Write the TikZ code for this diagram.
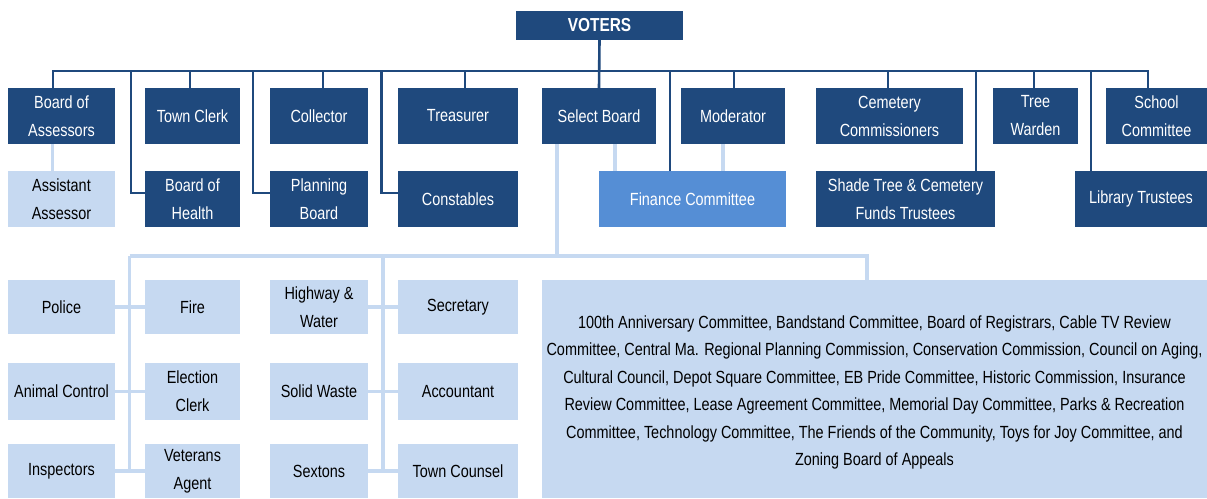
\documentclass[tikz,border=0pt]{standalone}
\usepackage{fontspec}
\newfontfamily\orgfont[FakeStretch=0.82]{Liberation Sans}
\definecolor{navy}{RGB}{31,73,125}
\definecolor{pale}{RGB}{198,217,241}
\definecolor{midblue}{RGB}{85,142,213}
\begin{document}
\begin{tikzpicture}[x=1pt,y=-1pt,
  box/.style={inner sep=0pt,outer sep=0pt,align=center,
    font=\orgfont\fontsize{17.6}{28}\selectfont},
  dk/.style={box,fill=navy,text=white},
  lt/.style={box,fill=pale,text=black},
  md/.style={box,fill=midblue,text=white},
  top/.style={minimum height=56pt},
  dline/.style={draw=navy,line width=2.6pt},
  lline/.style={draw=pale,line width=3.4pt}]
\useasboundingbox[fill=white] (0,0) rectangle (1207,498);

% head
\node[dk,minimum width=167pt,minimum height=29pt,font=\orgfont\bfseries\fontsize{18.8}{20}\selectfont]
  (voters) at (599.5,25.5) {VOTERS};

% elected offices
\node[dk,top,minimum width=107pt] (ba)  at (61.5,116)  {Board of\\Assessors};
\node[dk,top,minimum width=95pt]  (tc)  at (192.5,116) {Town Clerk};
\node[dk,top,minimum width=98pt]  (col) at (319,116)   {Collector};
\node[dk,top,minimum width=120pt] (tre) at (458,116)   {Treasurer};
\node[dk,top,minimum width=114pt] (sb)  at (599,116)   {Select Board};
\node[dk,top,minimum width=104pt] (mod) at (733,116)   {Moderator};
\node[dk,top,minimum width=147pt] (cem) at (889.5,116) {Cemetery\\Commissioners};
\node[dk,top,minimum width=85pt]  (tw)  at (1035.5,116){Tree\\Warden};
\node[dk,top,minimum width=101pt] (sch) at (1156.5,116){School\\Committee};

\node[lt,top,minimum width=107pt] (aa)  at (61.5,199)  {Assistant\\Assessor};
\node[dk,top,minimum width=95pt]  (boh) at (192.5,199) {Board of\\Health};
\node[dk,top,minimum width=98pt]  (pb)  at (319,199)   {Planning\\Board};
\node[dk,top,minimum width=120pt] (con) at (458,199)   {Constables};
\node[md,top,minimum width=187pt] (fc)  at (692.5,199) {Finance Committee};
\node[dk,top,minimum width=179pt] (st)  at (905.5,199) {Shade Tree \& Cemetery\\Funds Trustees};
\node[dk,top,minimum width=132pt] (lib) at (1141,199)  {Library Trustees};

% appointed by the select board
\node[lt,minimum width=107pt,minimum height=54pt] (pol)  at (61.5,307)  {Police};
\node[lt,minimum width=95pt, minimum height=54pt] (fire) at (192.5,307) {Fire};
\node[lt,minimum width=98pt, minimum height=54pt] (hw)   at (319,307)   {Highway \&\\Water};
\node[lt,minimum width=120pt,minimum height=54pt] (sec)  at (458,307)   {Secretary};
\node[lt,minimum width=107pt,minimum height=57pt] (ac)   at (61.5,391.5)  {Animal Control};
\node[lt,minimum width=95pt, minimum height=57pt] (ec)   at (192.5,391.5) {Election\\Clerk};
\node[lt,minimum width=98pt, minimum height=57pt] (sw)   at (319,391.5)   {Solid Waste};
\node[lt,minimum width=120pt,minimum height=57pt] (acc)  at (458,391.5)   {Accountant};
\node[lt,minimum width=107pt,minimum height=54pt] (insp) at (61.5,471)  {Inspectors};
\node[lt,minimum width=95pt, minimum height=54pt] (vet)  at (192.5,471) {Veterans\\Agent};
\node[lt,minimum width=98pt, minimum height=54pt] (sex)  at (319,471)   {Sextons};
\node[lt,minimum width=120pt,minimum height=54pt] (tcou) at (458,471)   {Town Counsel};

% the list is lowered a little inside its box, keeping the box's own extent
\node[lt,minimum width=665pt,minimum height=218pt,font=\orgfont\fontsize{17.6}{27.5}\selectfont]
  (big) at (874.5,389) {\raisebox{-3.5pt}[\height][\depth]{\parbox{660pt}{\centering
100th Anniversary Committee, Bandstand Committee, Board of Registrars, Cable TV Review\\
Committee, Central Ma. Regional Planning Commission, Conservation Commission, Council on Aging,\\
Cultural Council, Depot Square Committee, EB Pride Committee, Historic Commission, Insurance\\
Review Committee, Lease Agreement Committee, Memorial Day Committee, Parks \& Recreation\\
Committee, Technology Committee, The Friends of the Community, Toys for Joy Committee, and\\
Zoning Board of Appeals}}};

% main bus under the voters
\coordinate (bus) at (0,71);
\draw[dline] ([xshift=-8.5pt]ba.north) -- ([xshift=-8.5pt]ba.north |- bus)
  -- ([xshift=-8.5pt]sch.north |- bus) -- ([xshift=-8.5pt]sch.north);
\draw[dline] (voters.south) -- (sb.north);
\draw[dline] ([xshift=-2.5pt]tc.north)  -- ([xshift=-2.5pt]tc.north |- bus);
\draw[dline] ([xshift=4pt]col.north)    -- ([xshift=4pt]col.north |- bus);
\draw[dline] ([xshift=7pt]tre.north)    -- ([xshift=7pt]tre.north |- bus);
\draw[dline] ([xshift=1pt]mod.north)    -- ([xshift=1pt]mod.north |- bus);
\draw[dline] ([xshift=-1.5pt]cem.north) -- ([xshift=-1.5pt]cem.north |- bus);
\draw[dline] ([xshift=-1.5pt]tw.north)  -- ([xshift=-1.5pt]tw.north |- bus);

% side brackets to the second row
\draw[dline] ([yshift=6pt]boh.west) -| ([xshift=-14pt]boh.west |- bus);
\draw[dline] ([yshift=6pt]pb.west)  -| ([xshift=-17pt]pb.west |- bus);
\draw[dline] ([yshift=6pt]con.west) -| ([xshift=-16.5pt]con.west |- bus);
\draw[dline] ([xshift=-22.5pt]fc.north) -- ([xshift=-22.5pt]fc.north |- bus);
\draw[dline] ([xshift=70.5pt]st.north)  -- ([xshift=70.5pt]st.north |- bus);
\draw[dline] ([xshift=-50pt]lib.north)  -- ([xshift=-50pt]lib.north |- bus);

% light links
\draw[lline] ([xshift=-9pt]ba.south) -- ([xshift=-9pt]aa.north);
\draw[lline] ([xshift=16pt]sb.south) -- ([xshift=16pt]sb.south |- fc.north);
\draw[lline] ([xshift=-10pt]mod.south) -- ([xshift=-10pt]mod.south |- fc.north);

% select board appointments
\coordinate (lbL) at (129.5,256);
\coordinate (lbM) at (383,256);
\coordinate (lbR) at (867,256);
\draw[lline] ([xshift=-42pt]sb.south) -- ([xshift=-42pt]sb.south |- lbR);
\draw[lline] (lbL) -- (lbR) -- (lbR |- big.north);
\draw[lline] (lbL) -- (lbL |- insp.east);
\draw[lline] (lbM) -- (lbM |- sex.east);
\draw[lline] (pol.east) -- (fire.west);
\draw[lline] (ac.east) -- (ec.west);
\draw[lline] (insp.east) -- (vet.west);
\draw[lline] (hw.east) -- (sec.west);
\draw[lline] (sw.east) -- (acc.west);
\draw[lline] (sex.east) -- (tcou.west);
\end{tikzpicture}
\end{document}
